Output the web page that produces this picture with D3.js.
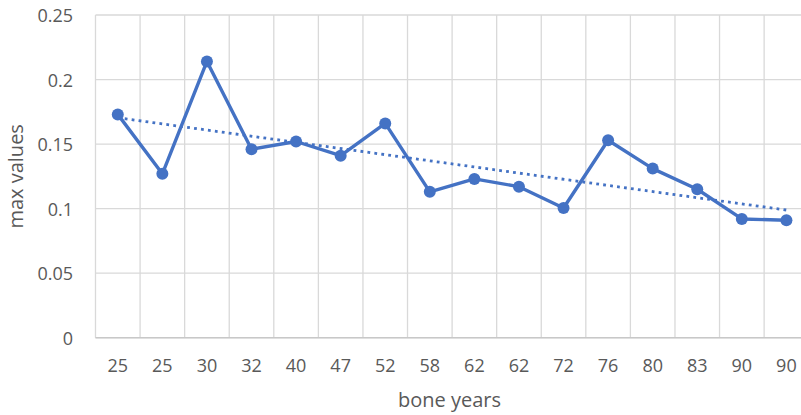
<!DOCTYPE html>
<html>
<head>
<meta charset="utf-8">
<script src="https://cdnjs.cloudflare.com/ajax/libs/d3/7.8.5/d3.min.js"></script>
<style>
  body { margin: 0; background: #fff; }
  text { font-family: "Open Sans", sans-serif; fill: #595959; }
</style>
</head>
<body>
<div id="chart"></div>
<script>
// data
let categories = ['25', '25', '30', '32', '40', '47', '52', '58', '62', '62', '72', '76', '80', '83', '90', '90'];
let maxValues = [0.173, 0.127, 0.214, 0.146, 0.152, 0.141, 0.166, 0.113, 0.123, 0.117, 0.1005, 0.153, 0.131, 0.115, 0.092, 0.091];
let yTicks = [0, 0.05, 0.1, 0.15, 0.2, 0.25];

let width = 801;
let height = 415;
let plotLeft = 95.5, plotRight = 808.7, plotTop = 15, plotBottom = 337.7;

let svg = d3.select('#chart').append('svg').attr('width', width).attr('height', height);

let idx = categories.map(function (d, i) { return i; });
let x = d3.scaleBand().domain(idx).range([plotLeft, plotRight]);
let y = d3.scaleLinear().domain([0, 0.25]).range([plotBottom, plotTop]);
let cx = function (i) { return x(i) + x.bandwidth() / 2; };

// horizontal gridlines
svg.append('g').selectAll('line')
  .data(yTicks)
  .enter().append('line')
    .attr('x1', plotLeft).attr('x2', plotRight)
    .attr('y1', function (d) { return y(d); })
    .attr('y2', function (d) { return y(d); })
    .attr('stroke', '#d9d9d9')
    .attr('stroke-width', 1.3);

// vertical gridlines at category edges
svg.append('g').selectAll('line')
  .data(idx.concat([categories.length]))
  .enter().append('line')
    .attr('x1', function (d) { return plotLeft + d * x.bandwidth(); })
    .attr('x2', function (d) { return plotLeft + d * x.bandwidth(); })
    .attr('y1', plotTop).attr('y2', plotBottom)
    .attr('stroke', '#d9d9d9')
    .attr('stroke-width', 1.3);

// bottom axis line
svg.append('line')
  .attr('x1', plotLeft).attr('x2', plotRight)
  .attr('y1', plotBottom).attr('y2', plotBottom)
  .attr('stroke', '#c8c8c8')
  .attr('stroke-width', 1.5);

// y tick labels
let yAxis = d3.axisLeft(y).tickValues(yTicks).tickSize(0).tickPadding(0)
  .tickFormat(function (d) { return String(d); });
let gy = svg.append('g').attr('transform', 'translate(73,0)').call(yAxis);
gy.select('.domain').remove();
gy.selectAll('text').style('font-size', '18px').attr('fill', '#595959').attr('dy', '0.36em')
  .style('font-family', '"Open Sans", sans-serif');

// x tick labels
let xAxis = d3.axisBottom(x).tickSize(0).tickPadding(0)
  .tickFormat(function (i) { return categories[i]; });
let gx = svg.append('g').attr('transform', 'translate(0,365.5)').call(xAxis);
gx.select('.domain').remove();
gx.selectAll('text').style('font-size', '18px').attr('fill', '#595959').attr('dy', '0.36em')
  .style('font-family', '"Open Sans", sans-serif');

// axis titles
svg.append('text')
  .attr('x', 449.5).attr('y', 407)
  .attr('text-anchor', 'middle')
  .style('font-size', '20px')
  .text('bone years');

svg.append('text')
  .attr('transform', 'translate(23,' + ((plotTop + plotBottom) / 2) + ') rotate(-90)')
  .attr('text-anchor', 'middle')
  .style('font-size', '20px')
  .text('max values');

// linear trendline (least squares over category index)
let n = maxValues.length;
let mx = d3.mean(idx);
let my = d3.mean(maxValues);
let sxy = d3.sum(idx, function (i) { return (i - mx) * (maxValues[i] - my); });
let sxx = d3.sum(idx, function (i) { return (i - mx) * (i - mx); });
let slope = sxy / sxx;
let trend = [0, n - 1].map(function (i) { return [i, my + slope * (i - mx)]; });

svg.append('path')
  .attr('fill', 'none')
  .attr('stroke', '#4472c4')
  .attr('stroke-width', 2.8)
  .attr('stroke-dasharray', '2.8,4.2')
  .attr('d', d3.line().x(function (d) { return cx(d[0]); }).y(function (d) { return y(d[1]); })(trend));

// series line
svg.append('path')
  .attr('fill', 'none')
  .attr('stroke', '#4472c4')
  .attr('stroke-width', 3.4)
  .attr('stroke-linejoin', 'round')
  .attr('d', d3.line().x(function (d, i) { return cx(i); }).y(function (d) { return y(d); })(maxValues));

svg.selectAll('circle.pt')
  .data(maxValues)
  .enter().append('circle')
    .attr('class', 'pt')
    .attr('cx', function (d, i) { return cx(i); })
    .attr('cy', function (d) { return y(d); })
    .attr('r', 6)
    .attr('fill', '#4472c4');
</script>
</body>
</html>
